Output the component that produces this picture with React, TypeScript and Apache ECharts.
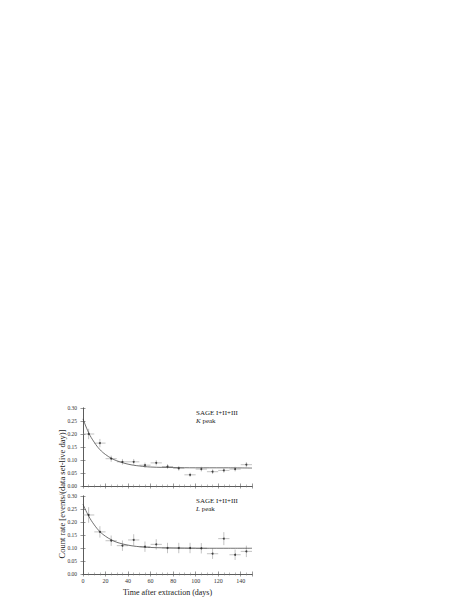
import React, { useEffect, useRef } from 'react';
import * as echarts from 'echarts';

// bin centres (days after extraction), bins are 10 days wide
const days = [5, 15, 25, 35, 45, 55, 65, 75, 85, 95, 105, 115, 125, 135, 145];
const binHalfWidth = 5;

// K peak
const kRate = [0.2, 0.165, 0.105, 0.093, 0.093, 0.08, 0.089, 0.075, 0.068, 0.043, 0.065, 0.055, 0.06, 0.065, 0.082];
const kErr = [0.02, 0.016, 0.012, 0.011, 0.011, 0.01, 0.01, 0.009, 0.009, 0.008, 0.009, 0.009, 0.009, 0.009, 0.01];

// L peak
const lRate = [0.227, 0.162, 0.128, 0.109, 0.131, 0.105, 0.114, 0.1, 0.1, 0.1, 0.099, 0.078, 0.136, 0.074, 0.087];
const lErr = [0.03, 0.022, 0.02, 0.02, 0.022, 0.02, 0.02, 0.02, 0.02, 0.02, 0.02, 0.02, 0.025, 0.02, 0.022];

// fitted curves
const fitDays = [0, 5, 10, 15, 20, 25, 30, 40, 50, 60, 80, 100, 125, 150];
const kFit = [0.258, 0.205, 0.168, 0.14, 0.121, 0.107, 0.097, 0.084, 0.077, 0.073, 0.071, 0.07, 0.07, 0.069];
const lFit = [0.268, 0.223, 0.189, 0.163, 0.145, 0.132, 0.122, 0.111, 0.105, 0.102, 0.1, 0.099, 0.099, 0.099];

const FONT = 'Liberation Serif';

export default function App() {
  const chartRef = useRef<HTMLDivElement>(null);

  useEffect(() => {
    if (!chartRef.current) return;
    const chart = echarts.init(chartRef.current, null, { renderer: 'svg' });

    const axisLine = { lineStyle: { color: '#555', width: 0.8 } };
    const tick = { inside: true, length: 2.5, lineStyle: { color: '#555', width: 0.6 } };
    const minor = { show: true, splitNumber: 4, length: 1.5, lineStyle: { color: '#777', width: 0.5 } };

    const xAx = (gridIndex: number, position: 'top' | 'bottom', labels: boolean, name?: string): any => ({
      type: 'value',
      gridIndex,
      position,
      min: 0,
      max: 150,
      interval: 20,
      axisLine,
      axisTick: tick,
      minorTick: minor,
      splitLine: { show: false },
      axisLabel: {
        show: labels,
        showMaxLabel: false,
        fontFamily: FONT,
        fontSize: 6,
        color: '#333',
        margin: 4
      },
      name,
      nameLocation: 'middle',
      nameGap: 14,
      nameTextStyle: { fontFamily: FONT, fontSize: 8, color: '#222' }
    });

    const yAx = (gridIndex: number, position: 'left' | 'right', labels: boolean): any => ({
      type: 'value',
      gridIndex,
      position,
      min: 0,
      max: 0.3,
      interval: 0.05,
      axisLine,
      axisTick: tick,
      splitLine: { show: false },
      axisLabel: {
        show: labels,
        fontFamily: FONT,
        fontSize: 5.5,
        color: '#333',
        margin: 6,
        formatter: (v: number) => v.toFixed(2)
      }
    });

    const errorBars = (rates: number[], errs: number[], axis: number): any => ({
      type: 'custom',
      xAxisIndex: axis,
      yAxisIndex: axis,
      data: days.map((d, i) => [d, rates[i], errs[i]]),
      encode: { x: 0, y: 1 },
      z: 2,
      renderItem: (_params: any, api: any) => {
        const x = api.value(0);
        const y = api.value(1);
        const e = api.value(2);
        const l = api.coord([x - binHalfWidth, y]);
        const r = api.coord([x + binHalfWidth, y]);
        const t = api.coord([x, y + e]);
        const b = api.coord([x, y - e]);
        const style = { stroke: '#9a9a9a', lineWidth: 0.6 };
        return {
          type: 'group',
          children: [
            { type: 'line', shape: { x1: l[0], y1: l[1], x2: r[0], y2: r[1] }, style },
            { type: 'line', shape: { x1: t[0], y1: t[1], x2: b[0], y2: b[1] }, style }
          ]
        };
      }
    });

    const points = (rates: number[], axis: number): any => ({
      type: 'scatter',
      xAxisIndex: axis,
      yAxisIndex: axis,
      data: days.map((d, i) => [d, rates[i]]),
      symbol: 'circle',
      symbolSize: 2,
      itemStyle: { color: '#222' },
      z: 4
    });

    const fit = (vals: number[], axis: number): any => ({
      type: 'line',
      xAxisIndex: axis,
      yAxisIndex: axis,
      data: fitDays.map((d, i) => [d, vals[i]]),
      smooth: 0.4,
      showSymbol: false,
      lineStyle: { color: '#333', width: 0.7 },
      z: 3
    });

    const txt = (x: number, y: number, text: string, rich?: any): any => ({
      type: 'text',
      x,
      y,
      style: { text, fontFamily: FONT, fontSize: 7, fill: '#222', rich }
    });
    const italic = { i: { fontStyle: 'italic', fontFamily: FONT, fontSize: 7, fill: '#222' } };

    const option: echarts.EChartsOption = {
      animation: false,
      backgroundColor: '#fff',
      grid: [
        { left: 83, top: 408, width: 169, height: 78 },
        { left: 83, top: 496, width: 169, height: 78 }
      ],
      xAxis: [
        xAx(0, 'bottom', false),
        xAx(0, 'top', false),
        xAx(1, 'bottom', true, 'Time after extraction (days)'),
        xAx(1, 'top', false)
      ],
      yAxis: [
        yAx(0, 'left', true),
        yAx(0, 'right', false),
        yAx(1, 'left', true),
        yAx(1, 'right', false)
      ],
      graphic: [
        {
          type: 'text',
          x: 62,
          y: 494,
          rotation: Math.PI / 2,
          style: {
            text: 'Count rate [events/(data set-live day)]',
            fontFamily: FONT,
            fontSize: 8.5,
            fill: '#222',
            textAlign: 'center',
            textVerticalAlign: 'middle'
          }
        },
        txt(196, 409.5, 'SAGE I+II+III'),
        txt(196, 417, '{i|K} peak', italic),
        txt(196, 497.5, 'SAGE I+II+III'),
        txt(196, 505, '{i|L} peak', italic)
      ],
      series: [
        fit(kFit, 0),
        errorBars(kRate, kErr, 0),
        points(kRate, 0),
        fit(lFit, 2),
        errorBars(lRate, lErr, 2),
        points(lRate, 2)
      ]
    };

    chart.setOption(option);

    return () => {
      chart.dispose();
    };
  }, []);

  return (
    <div
      ref={chartRef}
      style={{ position: 'absolute', left: 0, top: 0, width: '467px', height: '605px' }}
    />
  );
}
